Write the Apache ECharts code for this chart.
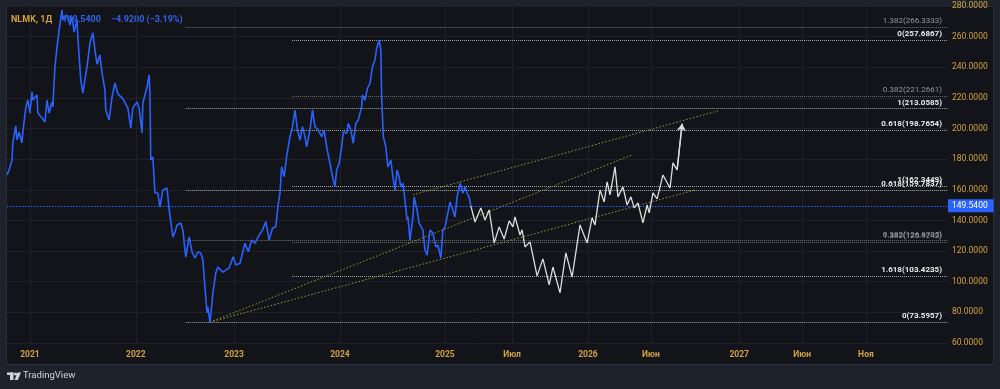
<!DOCTYPE html>
<html><head><meta charset="utf-8">
<script src="https://cdn.jsdelivr.net/npm/echarts@6/dist/echarts.min.js"></script>
<style>html,body{margin:0;padding:0;background:#1e222d;}#c{width:1000px;height:389px;}</style>
</head><body><div id="c"></div>
<script>
// ---- axis ticks (x in bar units: daily trading bars in history, calendar days in projection)
const xTickBars = [0, 254, 490, 744, 996, 1157, 1339, 1490, 1702, 1853, 2006];
const xTickLabels = ['2021', '2022', '2023', '2024', '2025', 'Июл', '2026', 'Июн', '2027', 'Июн', 'Ноя'];
const xMin = -55, xMax = 2203;
const yMin = 60, yMax = 280, yStep = 20;

// ---- NLMK daily close
const histBar = [-55,-50,-43,-41,-34,-31,-26,-19,-17,-10,-5,0,5,7,17,19,29,36,41,46,53,55,60,65,70,77,79,89,96,101,106,113,115,122,127,132,137,144,151,156,161,168,173,180,182,190,197,204,211,223,235,242,247,257,262,269,271,281,286,288,290,295,300,307,312,319,329,334,343,348,353,362,367,374,382,389,396,403,410,415,420,425,427,432,436,439,446,451,463,478,482,488,494,504,512,516,524,532,540,550,558,566,574,582,590,596,600,604,610,616,624,630,636,642,648,654,660,664,672,678,684,692,700,706,712,720,726,732,736,742,748,752,760,764,770,776,782,788,796,798,804,810,816,822,828,832,838,842,844,848,854,859,866,871,876,881,886,890,895,898,905,907,912,919,922,929,934,943,948,953,960,967,974,979,986,991,996,1001,1008,1015,1020,1025,1032,1039,1044,1049,1054,1058];
const histPrice = [169.7,172.9,179.5,190.6,201.7,192.5,197.7,190.6,197.7,213.4,218.6,210.1,223.9,218.6,221.9,210.1,206.9,204.3,218.6,210.1,217.3,214.1,240.2,253.2,264.3,277.4,270.9,274.1,267.6,272.8,263.0,270.9,259.8,231.7,223.2,231.7,240.2,255.8,262.4,251.3,242.0,248.0,236.3,225.2,212.1,205.6,220.6,229.7,222.6,219.5,213.4,200.4,213.4,217.3,213.4,197.1,216.7,227.1,235.0,223.2,179.5,181.4,157.9,157.9,148.8,159.9,161.2,147.4,129.2,132.4,137.0,138.3,133.7,116.1,129.2,119.4,115.5,119.4,118.8,114.2,96.6,79.6,83.5,73.6,83.5,92.6,105.7,109.6,106.3,109.0,112.0,116.3,110.9,112.0,120.7,125.1,119.6,127.2,125.1,130.5,133.7,139.2,127.2,134.9,135.9,151.2,157.7,175.1,168.6,181.6,194.7,201.2,212.1,199.0,192.5,201.2,194.7,188.1,199.0,212.1,201.2,199.0,194.7,199.0,188.1,177.3,168.6,162.0,172.9,177.3,188.1,197.9,196.9,203.4,199.0,190.4,203.4,205.6,214.3,221.9,218.6,226.3,229.5,240.4,244.7,252.4,257.7,251.3,220.8,194.7,188.0,174.9,179.5,168.4,159.9,172.9,168.4,161.8,164.4,157.9,140.3,142.3,127.2,142.3,155.3,146.8,138.3,133.7,120.7,117.4,133.7,131.8,122.7,124.0,115.5,133.7,135.7,142.3,152.0,146.8,142.3,155.3,164.4,157.9,161.8,157.9,155.3,149.54];

// ---- projected path (white)
const pathBar = [1058,1068,1082,1092,1102,1114,1126,1138,1150,1159,1164,1176,1181,1188,1200,1217,1231,1246,1255,1272,1286,1301,1320,1337,1349,1356,1368,1378,1385,1392,1404,1411,1423,1433,1442,1450,1459,1471,1481,1486,1495,1505,1519,1536,1543,1553,1565];
const pathPrice = [149.5,139.0,148.2,140.3,146.9,125.3,135.8,127.9,139.7,135.8,142.3,130.5,133.8,122.7,126.0,103.8,114.9,97.9,109.6,92.7,118.8,103.1,137.1,125.3,141.7,137.1,159.9,152.1,165.2,156.7,175.0,155.4,161.9,150.1,155.4,148.2,151.4,138.4,150.1,144.9,158.0,154.1,169.7,161.2,177.6,173.0,203.1];

// ---- Fibonacci tools
const fibALevels = ['0', '0.382', '0.618', '1', '1.382'];
const fibAValues = [73.5957, 126.8705, 159.7837, 213.0585, 266.3333];
const fibAStart = 374;
const fibBLevels = ['0', '0.382', '0.618', '1', '1.382', '1.618'];
const fibBValues = [257.6867, 221.2661, 198.7654, 162.3449, 125.9243, 103.4235];
const fibBStart = 629;

// ---- trend lines
const trendStartBar = [432, 432, 919];
const trendStartVal = [73.6, 73.6, 156.7];
const trendEndBar = [1445, 1596, 1651];
const trendEndVal = [182.8, 159.9, 211.5];

const lastPrice = 149.54;
const headerSymbol = 'NLMK, 1Д';
const headerPrice = '149.5400';
const headerChange = '−4.9200 (−3.19%)';

// ---------------------------------------------------------------
const gold = '#d2a33f';
const gridColor = '#1e2128';
const FONT = 'Roboto, "Liberation Sans", sans-serif';
const brightLevels = ['0', '0.618', '1', '1.618'];

function fibLines(levels, values, start) {
  return levels.map((lv, i) => {
    const bright = brightLevels.includes(lv);
    return [
      { coord: [start, values[i]],
        lineStyle: { color: bright ? 'rgba(190,190,190,0.85)' : 'rgba(140,140,140,0.75)', width: 1, type: 'dotted' },
        label: { show: true, position: 'insideEndTop', distance: [6, 2],
          formatter: lv + '(' + values[i].toFixed(4) + ')',
          color: bright ? '#ececec' : '#9598a1', fontSize: 8, fontWeight: bright ? 'bold' : 'normal', fontFamily: FONT } },
      { coord: [xMax, values[i]] }
    ];
  });
}

const chart = echarts.init(document.getElementById('c'), null, { renderer: 'canvas' });
const option = {
  backgroundColor: '#1e222d',
  animation: false,
  graphic: [
    { type: 'rect', z: -10, silent: true, shape: { x: 6.5, y: 6.5, width: 987, height: 358 },
      style: { fill: '#121419', stroke: '#2a2e39', lineWidth: 1 } },
    { type: 'rect', z: 10, silent: true, shape: { x: 7, y: 372.5, width: 6.5, height: 2.5 }, style: { fill: '#d1d4dc' } },
    { type: 'rect', z: 10, silent: true, shape: { x: 10, y: 372.5, width: 3.5, height: 7.5 }, style: { fill: '#d1d4dc' } },
    { type: 'circle', z: 10, silent: true, shape: { cx: 15.6, cy: 374, r: 1.6 }, style: { fill: '#d1d4dc' } },
    { type: 'polygon', z: 10, silent: true, shape: { points: [[17.5, 372.5], [21, 372.5], [17.8, 380], [14.5, 380]] }, style: { fill: '#d1d4dc' } },
    { type: 'text', z: 10, silent: true, x: 23, y: 376,
      style: { text: 'TradingView', fill: '#d1d4dc', font: '9.5px ' + FONT, verticalAlign: 'middle' } }
  ],
  title: {
    left: 11, top: 11, z: 1, padding: 0,
    text: '{a|' + headerSymbol + '}  {b|' + headerPrice + '}  {b|' + headerChange + '}',
    textStyle: { rich: {
      a: { color: gold, fontSize: 9, fontWeight: 'bold', fontFamily: FONT },
      b: { color: '#2f62e8', fontSize: 9, fontFamily: FONT }
    } }
  },
  grid: { left: 7, right: 52, top: 6, bottom: 46 },
  xAxis: {
    type: 'value', min: xMin, max: xMax,
    axisLine: { show: false }, axisTick: { show: false }, splitLine: { show: false },
    axisLabel: { customValues: xTickBars,
      formatter: v => { const i = xTickBars.indexOf(v); return i >= 0 ? xTickLabels[i] : ''; },
      color: gold, fontSize: 8.5, fontWeight: 'bold', margin: 7, fontFamily: FONT }
  },
  yAxis: {
    type: 'value', position: 'right', min: yMin, max: yMax, interval: yStep,
    axisLine: { show: false }, axisTick: { show: false },
    splitLine: { lineStyle: { color: gridColor, width: 1 } },
    axisLabel: { formatter: v => v.toFixed(4), color: gold, fontSize: 8.5, margin: 4, fontFamily: FONT }
  },
  series: [
    { name: 'vgrid', type: 'line', data: [], silent: true, z: 0,
      markLine: { silent: true, symbol: ['none', 'none'], label: { show: false },
        lineStyle: { color: gridColor, type: 'solid', width: 1 },
        data: xTickBars.map(b => ({ xAxis: b })) } },
    { name: 'fibA', type: 'line', data: [], silent: true, clip: false, z: 3,
      markLine: { silent: true, symbol: ['none', 'none'], data: fibLines(fibALevels, fibAValues, fibAStart) } },
    { name: 'fibB', type: 'line', data: [], silent: true, clip: false, z: 3,
      markLine: { silent: true, symbol: ['none', 'none'], data: fibLines(fibBLevels, fibBValues, fibBStart) } },
    { name: 'trend', type: 'line', data: [], silent: true, clip: false, z: 4,
      markLine: { silent: true, symbol: ['none', 'none'], label: { show: false },
        lineStyle: { color: '#a09837', width: 1, type: [1.5, 2] },
        data: trendStartBar.map((b, i) => [{ coord: [b, trendStartVal[i]] }, { coord: [trendEndBar[i], trendEndVal[i]] }]) } },
    { name: 'last', type: 'line', data: [], silent: true, clip: false, z: 5, color: '#2962ff',
      markLine: { silent: true, symbol: ['none', 'none'],
        lineStyle: { color: '#2962ff', width: 1, type: [1.5, 1.5] },
        label: { show: true, position: 'end', distance: 0, formatter: lastPrice.toFixed(4),
          backgroundColor: '#2962ff', color: '#ffffff', padding: [2, 6, 2, 4], fontSize: 8.5, fontFamily: FONT },
        data: [{ yAxis: lastPrice, lineStyle: { color: '#2962ff', width: 1, type: [1.5, 1.5], opacity: 1 } }] } },
    { name: 'path', type: 'line', z: 6, silent: true, showSymbol: false,
      data: pathBar.map((b, i) => [b, pathPrice[i]]),
      lineStyle: { color: '#dcdcdc', width: 1.3 },
      markLine: { silent: true, symbol: ['none', 'arrow'], symbolSize: 7, label: { show: false },
        lineStyle: { color: '#dcdcdc', width: 1.3, type: 'solid' },
        data: [[{ coord: [pathBar[pathBar.length - 2], pathPrice[pathPrice.length - 2]] },
                { coord: [pathBar[pathBar.length - 1], pathPrice[pathPrice.length - 1]] }]] } },
    { name: 'NLMK', type: 'line', z: 7, silent: true, showSymbol: false,
      data: histBar.map((b, i) => [b, histPrice[i]]),
      lineStyle: { color: '#2962ff', width: 1.6 } }
  ]
};
chart.setOption(option);
</script></body></html>
